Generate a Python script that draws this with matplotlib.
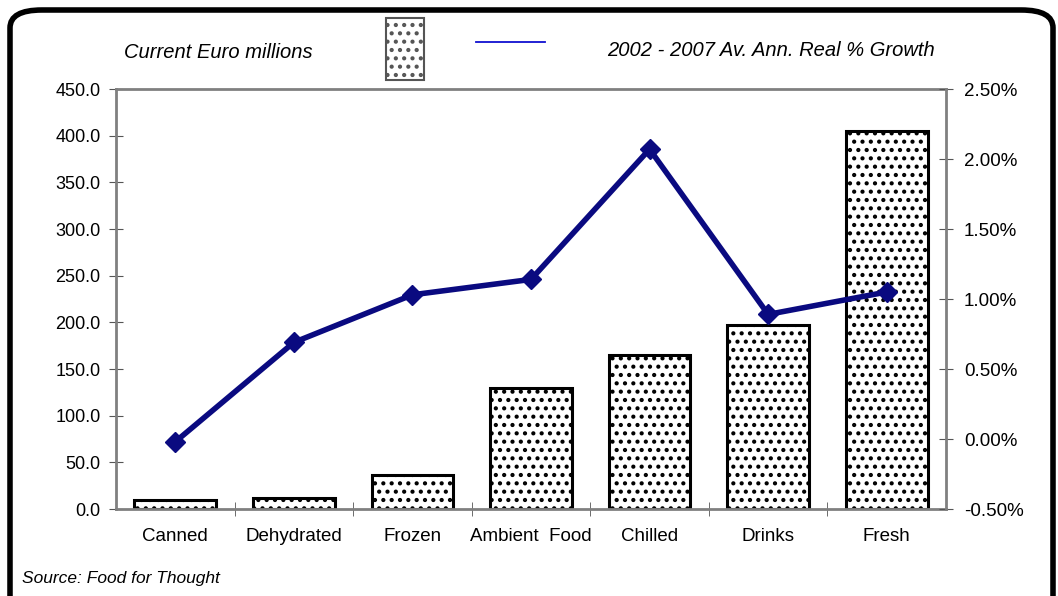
import matplotlib.pyplot as plt
from matplotlib.patches import FancyBboxPatch, Rectangle
from matplotlib.lines import Line2D
from matplotlib.ticker import FuncFormatter, MultipleLocator

categories = ["Canned", "Dehydrated", "Frozen", "Ambient  Food", "Chilled", "Drinks", "Fresh"]
sales_eur_m = [10.0, 12.0, 36.0, 130.0, 165.0, 197.0, 405.0]
growth_pct = [-0.02, 0.69, 1.03, 1.14, 2.07, 0.89, 1.05]

plt.rcParams["font.family"] = ["Liberation Sans", "DejaVu Sans"]
plt.rcParams["hatch.linewidth"] = 1.8

fig = plt.figure(figsize=(10.58, 5.96), dpi=100)

# rounded frame around the whole chart
frame = FancyBboxPatch((10 / 1058, -30 / 596), 1043 / 1058, 616 / 596,
                       boxstyle="round,pad=0,rounding_size=0.03",
                       transform=fig.transFigure, fill=False,
                       edgecolor="black", linewidth=4, zorder=0)
fig.add_artist(frame)

ax = fig.add_axes([116 / 1058, (596 - 509) / 596, 830 / 1058, 420 / 596])
x = range(len(categories))
ax.bar(x, sales_eur_m, width=0.69, color="white", edgecolor="black",
       linewidth=2.2, hatch="..", zorder=2)
ax.set_xlim(-0.5, len(categories) - 0.5)
ax.set_ylim(0, 450)
ax.yaxis.set_major_locator(MultipleLocator(50))
ax.yaxis.set_major_formatter(FuncFormatter(lambda v, p: f"{v:.1f}"))
ax.set_xticks(list(x))
ax.set_xticklabels(categories)
ax.set_xticks([i + 0.5 for i in range(len(categories) - 1)], minor=True)
ax.tick_params(axis="x", which="major", length=0, pad=14, labelsize=13.5)
ax.tick_params(axis="x", which="minor", length=10, direction="inout", color="#555555")
ax.tick_params(axis="y", length=10, direction="inout", color="#555555", labelsize=13, pad=6)

for s in ["left", "bottom", "top"]:
    ax.spines[s].set_color("#808080")
    ax.spines[s].set_linewidth(2)
ax.spines["right"].set_visible(False)

ax2 = ax.twinx()
ax2.plot(list(x), growth_pct, color="#0a0a80", linewidth=4, marker="D",
         markersize=10, zorder=3)
ax2.set_ylim(-0.5, 2.5)
ax2.yaxis.set_major_locator(MultipleLocator(0.5))
ax2.yaxis.set_major_formatter(FuncFormatter(lambda v, p: f"{v:.2f}%"))
ax2.tick_params(axis="y", length=10, direction="inout", color="#555555", labelsize=13.5, pad=8)
for s in ["left", "bottom", "top"]:
    ax2.spines[s].set_visible(False)
ax2.spines["right"].set_color("#808080")
ax2.spines["right"].set_linewidth(2)

# legend drawn by hand like the original
fig.add_artist(Rectangle((386 / 1058, 1 - 80 / 596), 38 / 1058, 62 / 596,
                         transform=fig.transFigure, facecolor="white",
                         edgecolor="#555555", linewidth=1.5, hatch=".."))
fig.add_artist(Line2D([476 / 1058, 545 / 1058], [1 - 42 / 596, 1 - 42 / 596],
                      transform=fig.transFigure, color="#1010d0", linewidth=1.3))
fig.text(124 / 1058, 1 - 52 / 596, "Current Euro millions", style="italic",
         fontsize=14.5, va="center", ha="left")
fig.text(935 / 1058, 1 - 50 / 596, "2002 - 2007 Av. Ann. Real % Growth", style="italic",
         fontsize=14.5, va="center", ha="right")
fig.text(22 / 1058, 1 - 579 / 596, "Source: Food for Thought", style="italic",
         fontsize=12.5, va="center", ha="left")

plt.savefig("out.png", dpi=100)
